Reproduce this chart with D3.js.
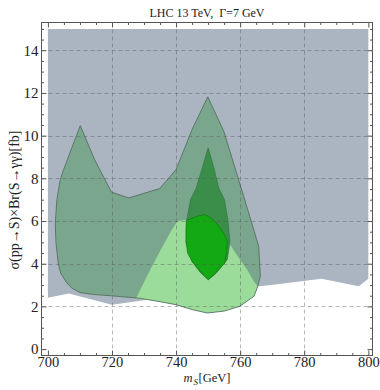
<!DOCTYPE html>
<html>
<head>
<meta charset="utf-8">
<script src="https://cdn.jsdelivr.net/npm/d3@7"></script>
<style>
  html, body { margin: 0; padding: 0; background: #fff; }
  svg { display: block; }
  text { font-family: "Liberation Serif", "Times New Roman", "DejaVu Serif", serif; fill: #222; }
</style>
</head>
<body>
<svg id="chart" width="380" height="390"></svg>
<script>
// Upper edge of the excluded band (flat at 15 fb) and its lower edge, [m_S, sigma]
const excludedTop = [[700, 15], [800, 15]];
const excludedBottom = [
  [700, 2.41], [706.5, 2.6], [720, 2.08], [727.8, 2.24], [740, 2.5],
  [760, 2.85], [766, 2.95], [769, 2.99], [785.4, 3.29], [797, 2.94], [800, 3.29]
];

// Broad allowed region
const broadRegion = [
  [710.1, 10.47], [714.5, 8.9], [719.8, 7.36], [725.2, 7.08], [730, 7.3], [734.9, 7.52],
  [740, 8.41], [745, 10.29], [749.9, 11.82], [754.9, 10.2], [761.1, 7.16],
  [765.8, 4.81], [766.3, 3.41], [765.5, 2.94], [764.3, 2.47], [759.8, 2.0],
  [755, 1.78], [749.7, 1.69], [745, 1.85], [740, 2.08], [735, 2.22], [728.8, 2.38],
  [719.5, 2.5], [714, 2.56], [710, 2.65], [707.5, 2.85], [705.9, 3.1], [704, 3.55],
  [703.2, 4.04], [702.5, 5.0], [702.3, 5.9], [702.8, 7.0], [703.8, 7.9], [704.9, 8.41],
  [707.5, 9.45]
];

// Light green region
const lightRegion = [
  [727.5, 2.38], [731.4, 3.56], [735, 4.6], [738.7, 5.6], [740.5, 6.0], [743, 6.05],
  [746, 6.2], [749, 6.3], [752, 6.1], [754.5, 5.6], [756.4, 5.0], [759, 4.4],
  [762.2, 3.72], [764.3, 3.17], [765.5, 2.94], [764.3, 2.47], [759.8, 2.0],
  [755, 1.78], [749.7, 1.69], [745, 1.85], [740, 2.08], [735, 2.22]
];

// Dark green region
const darkRegion = [
  [750, 9.43], [751.8, 8.5], [753.3, 7.55], [755.1, 7.0], [756.2, 6.0], [756.8, 5.0],
  [756, 4.2], [752.5, 3.55], [750.1, 3.25], [747.5, 3.6], [745, 4.1], [743.1, 5.0],
  [743.3, 6.0], [744.5, 7.0], [746.3, 7.55], [748.2, 8.5]
];

// Bright green region
const brightRegion = [
  [743.2, 6.03], [746, 6.2], [748.6, 6.3], [750.2, 6.22], [752, 6.0], [753.7, 5.68],
  [755, 5.4], [756, 5.05], [755.8, 4.6], [755.2, 4.03], [752.5, 3.6], [750, 3.25],
  [747.5, 3.65], [745, 4.11], [743.6, 4.5], [743.2, 4.97], [743.1, 5.5]
];

const xMajor = [700, 720, 740, 760, 780, 800];
const yMajor = [0, 2, 4, 6, 8, 10, 12, 14];
const xGrid = [720, 740, 760, 780];
const yGrid = [2, 4, 6, 8, 10, 12, 14];

const titleText = "LHC 13 TeV,\u2002\u0393=7 GeV";
const yLabelText = "\u03C3(pp\u2192S)\u00D7Br(S\u2192\u03B3\u03B3)[fb]";

const svg = d3.select("#chart");
const plotL = 41.5, plotR = 372.5, plotT = 22.5, plotB = 355.5;

const x = d3.scaleLinear().domain([698, 801.3]).range([plotL, plotR]);
const y = d3.scaleLinear().domain([-0.3, 15.3]).range([plotB, plotT]);

const closed = d3.line().x(d => x(d[0])).y(d => y(d[1])).curve(d3.curveLinearClosed);

svg.append("defs").append("clipPath").attr("id", "plotclip")
  .append("rect").attr("x", plotL).attr("y", plotT)
  .attr("width", plotR - plotL).attr("height", plotB - plotT);

const plot = svg.append("g").attr("clip-path", "url(#plotclip)");

// Excluded band
const band = excludedTop.concat(excludedBottom.slice().reverse());
plot.append("path").attr("d", closed(band)).attr("fill", "#abb4c1");

// Broad region fill, then light region, then broad outline on top
plot.append("path").attr("d", closed(broadRegion)).attr("fill", "#79a68c");
plot.append("path").attr("d", closed(lightRegion)).attr("fill", "#9cdc9a");
plot.append("path").attr("d", closed(broadRegion))
  .attr("fill", "none").attr("stroke", "#4c6a5a").attr("stroke-width", 0.8);

plot.append("path").attr("d", closed(darkRegion))
  .attr("fill", "#3b8e4a").attr("stroke", "#2e6e3a").attr("stroke-width", 0.6);
plot.append("path").attr("d", closed(brightRegion))
  .attr("fill", "#12a912").attr("stroke", "#0b7a0b").attr("stroke-width", 0.7);

// Dashed grid
const grid = svg.append("g").attr("stroke", "#555").attr("stroke-opacity", 0.42)
  .attr("stroke-width", 1).attr("stroke-dasharray", "4,3");
grid.selectAll(".gx").data(xGrid).join("line")
  .attr("x1", d => Math.round(x(d)) + 0.5).attr("x2", d => Math.round(x(d)) + 0.5)
  .attr("y1", plotT).attr("y2", plotB);
grid.selectAll(".gy").data(yGrid).join("line")
  .attr("y1", d => Math.round(y(d)) + 0.5).attr("y2", d => Math.round(y(d)) + 0.5)
  .attr("x1", plotL).attr("x2", plotR);

// Frame with inward ticks on all four sides
const frameColor = "#555";
const xAxB = d3.axisBottom(x).tickValues(xMajor).tickSizeInner(-5).tickSizeOuter(0).tickPadding(1);
const xAxT = d3.axisTop(x).tickValues(xMajor).tickSizeInner(-5).tickSizeOuter(0).tickFormat("");
const yAxL = d3.axisLeft(y).tickValues(yMajor).tickSizeInner(-5).tickSizeOuter(0).tickPadding(3);
const yAxR = d3.axisRight(y).tickValues(yMajor).tickSizeInner(-5).tickSizeOuter(0).tickFormat("");

const xMinor = d3.range(700, 801, 5).filter(v => v % 20 !== 0);
const yMinor = d3.range(0, 15.01, 0.5).filter(v => v % 2 !== 0);
const xAxBm = d3.axisBottom(x).tickValues(xMinor).tickSizeInner(-2.5).tickSizeOuter(0).tickFormat("");
const xAxTm = d3.axisTop(x).tickValues(xMinor).tickSizeInner(-2.5).tickSizeOuter(0).tickFormat("");
const yAxLm = d3.axisLeft(y).tickValues(yMinor).tickSizeInner(-2.5).tickSizeOuter(0).tickFormat("");
const yAxRm = d3.axisRight(y).tickValues(yMinor).tickSizeInner(-2.5).tickSizeOuter(0).tickFormat("");

function styleAxis(g, size) {
  g.select(".domain").remove();
  g.attr("font-family", null);
  g.selectAll("line").attr("stroke", frameColor);
  g.selectAll("text").attr("font-size", size).attr("fill", "#222");
}
svg.append("g").attr("transform", `translate(0,${plotB})`).call(xAxB).call(styleAxis, 14.5);
svg.append("g").attr("transform", `translate(0,${plotB})`).call(xAxBm).call(styleAxis, 14.5);
svg.append("g").attr("transform", `translate(0,${plotT})`).call(xAxT).call(styleAxis, 14.5);
svg.append("g").attr("transform", `translate(0,${plotT})`).call(xAxTm).call(styleAxis, 14.5);
svg.append("g").attr("transform", `translate(${plotL},0)`).call(yAxL).call(styleAxis, 15);
svg.append("g").attr("transform", `translate(${plotL},0)`).call(yAxLm).call(styleAxis, 15);
svg.append("g").attr("transform", `translate(${plotR},0)`).call(yAxR).call(styleAxis, 15);
svg.append("g").attr("transform", `translate(${plotR},0)`).call(yAxRm).call(styleAxis, 15);

svg.append("rect").attr("x", plotL).attr("y", plotT)
  .attr("width", plotR - plotL).attr("height", plotB - plotT)
  .attr("fill", "none").attr("stroke", frameColor).attr("stroke-width", 1);

// Title
svg.append("text").attr("x", 207).attr("y", 16.5).attr("text-anchor", "middle")
  .attr("font-size", 12).text(titleText);

// x-axis label: m_S[GeV]
const xl = svg.append("text").attr("x", 207).attr("y", 381.5).attr("text-anchor", "middle")
  .attr("font-size", 12.5);
xl.append("tspan").attr("font-style", "italic").text("m");
xl.append("tspan").attr("font-style", "italic").attr("font-size", 9)
  .attr("baseline-shift", "-2.5").attr("dx", 1).text("S");
xl.append("tspan").attr("dx", 0.5).text("[GeV]");

// y-axis label
svg.append("text").attr("transform", "translate(19,200) rotate(-90)")
  .attr("text-anchor", "middle").attr("font-size", 14).text(yLabelText);
</script>
</body>
</html>
